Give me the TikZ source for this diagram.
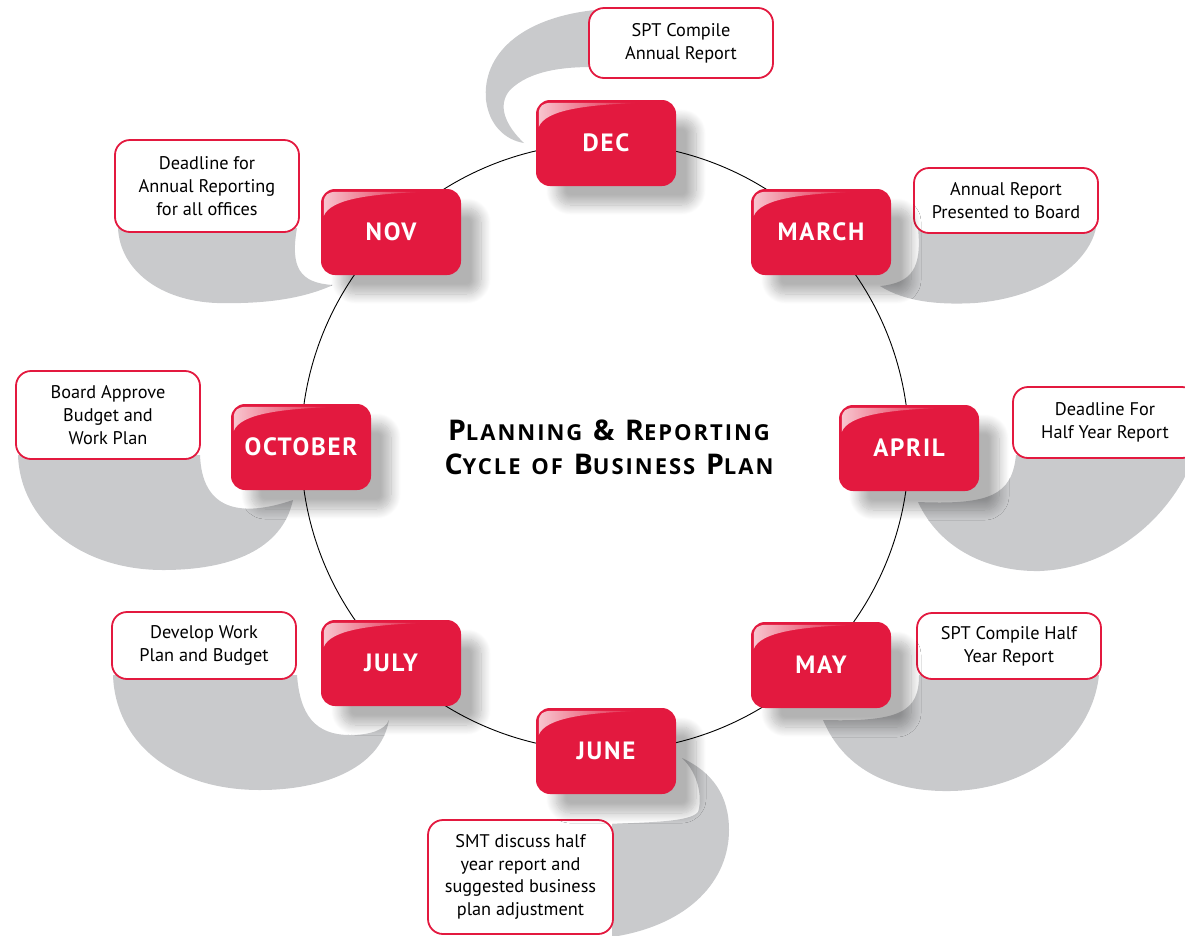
\documentclass[tikz,border=0pt]{standalone}
\usepackage{fontspec}
\setmainfont{PT Sans}
\newfontfamily\monthfont[LetterSpace=7]{PT Sans}
\newfontfamily\titlefont[LetterSpace=9,WordSpace=1.4]{Open Sans}
\usetikzlibrary{calc,shadows.blur,fadings}
\definecolor{boxred}{HTML}{E3193F}
\definecolor{swoosh}{HTML}{C9CACC}
\tikzfading[name=glossfade, left color=transparent!0, right color=transparent!100]
\newcommand\scw[2]{{\fontsize{28.5}{34}\selectfont #1}#2}
\tikzset{
  monthbox/.style={fill=boxred, rounded corners=14pt, minimum width=140pt, minimum height=86pt,
    inner sep=0pt, text=white, font=\monthfont\bfseries\fontsize{25}{28}\selectfont,
    blur shadow={shadow xshift=20pt, shadow yshift=-19pt, shadow blur radius=10pt, shadow blur steps=14, shadow opacity=30}},
  callout/.style={fill=white, draw=boxred, line width=1.8pt, rounded corners=15pt, minimum width=184pt,
    inner sep=0pt, align=center, font=\fontsize{18.3}{22.8}\selectfont},
  swooshfill/.style={fill=swoosh},
  ring/.style={draw=black, line width=0.9pt},
  gloss/.style={fill=white, path fading=glossfade, fill opacity=0.75}
}
\begin{document}
\begin{tikzpicture}[x=1pt,y=-1pt]
\useasboundingbox (0,0) rectangle (1185,935);
\clip (0,0) rectangle (1185,935);
% gray swooshes
\fill[swooshfill] (595,10) .. controls (520,18) and (482,55) .. (486,100) .. controls (489,125) and (505,140) .. (524,143) .. controls (505,125) and (497,105) .. (510,90) .. controls (530,70) and (565,67) .. (592,67) -- cycle;
\fill[swooshfill] (918,228) .. controls (922,268) and (912,283) .. (880,286) .. controls (905,302) and (940,305) .. (975,303) .. controls (1040,298) and (1088,265) .. (1096,228) -- cycle;
\fill[swooshfill] (1016,455) .. controls (1012,495) and (990,505) .. (918,502) .. controls (940,550) and (990,572) .. (1040,571) .. controls (1110,568) and (1170,520) .. (1195,455) -- cycle;
\fill[swooshfill] (919,675) .. controls (919,712) and (900,722) .. (823,720) .. controls (845,772) and (895,792) .. (950,791) .. controls (1030,790) and (1092,740) .. (1099,675) -- cycle;
\fill[swooshfill] (682,758) .. controls (700,775) and (702,800) .. (698,812) .. controls (690,822) and (650,822) .. (612,824) -- (612,937) .. controls (690,925) and (729,880) .. (729,830) .. controls (729,795) and (712,772) .. (682,758) -- cycle;
\fill[swooshfill] (297,675) .. controls (300,715) and (315,735) .. (350,735) .. controls (370,735) and (385,730) .. (389,720) .. controls (380,770) and (320,790) .. (260,790) .. controls (170,790) and (115,740) .. (113,675) -- cycle;
\fill[swooshfill] (200,455) .. controls (202,510) and (240,518) .. (293,500) .. controls (282,550) and (230,570) .. (163,570) .. controls (80,570) and (20,520) .. (18,455) -- cycle;
\fill[swooshfill] (297,228) .. controls (290,268) and (300,283) .. (333,285) .. controls (300,300) and (260,304) .. (217,303) .. controls (160,301) and (120,270) .. (118,228) -- cycle;
% ring
\coordinate (ctr) at (605,447);
\draw[ring] (ctr) circle[radius=304];
% callouts
\node[callout, minimum height=70pt] (c1) at (681,43) {SPT Compile\\Annual Report};
\node[callout, minimum height=65pt] (c2) at (1006,200.5) {Annual Report\\Presented to Board};
\node[callout, minimum height=71pt] (c3) at (1105,422.5) {Deadline For\\Half Year Report};
\node[callout, minimum height=66pt] (c4) at (1009,646) {SPT Compile Half\\Year Report};
\node[callout, minimum height=114pt, minimum width=185pt] (c5) at (520.5,877) {SMT discuss half\\year report and\\suggested business\\plan adjustment};
\node[callout, minimum height=67pt] (c6) at (204,645.5) {Develop Work\\Plan and Budget};
\node[callout, minimum height=88pt] (c7) at (108,415) {Board Approve\\Budget and\\Work Plan};
\node[callout, minimum height=92pt] (c8) at (207,186) {Deadline for\\Annual Reporting\\for all offices};
% month boxes
\foreach \n/\x/\y/\t in {dec/606/143/DEC, mar/821/232/MARCH, apr/909/448/APRIL, may/821/665/MAY, jun/606/751/JUNE, jul/391/663/JULY, oct/301/447/OCTOBER, nov/391/232/NOV}{
  \node[monthbox] (\n) at (\x,\y) {\t};
  \fill[gloss] ($(\n.north west)+(3,27)$) -- ($(\n.north west)+(3,14)$) .. controls ($(\n.north west)+(3,6)$) and ($(\n.north west)+(7,3)$) .. ($(\n.north west)+(16,3)$) -- ($(\n.north west)+(105,3)$) .. controls ($(\n.north west)+(50,5)$) and ($(\n.north west)+(10,10)$) .. cycle;
}
% title
\node[font=\titlefont\bfseries\fontsize{22}{34}\selectfont, align=center, inner sep=0pt] (title) at (609,447) {\scw{P}{LANNING} \scw{\&}{} \scw{R}{EPORTING}\\\scw{C}{YCLE OF} \scw{B}{USINESS} \scw{P}{LAN}};
\end{tikzpicture}
\end{document}
